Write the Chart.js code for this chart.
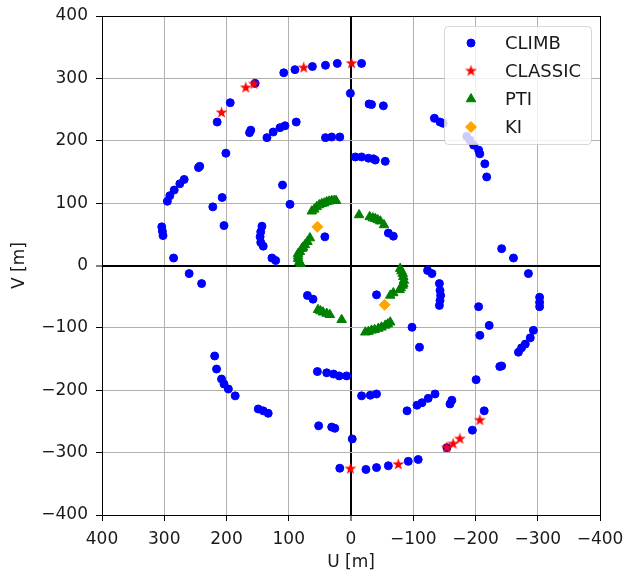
<!doctype html>
<html lang="en">
<head>
<meta charset="utf-8">
<title>UV coverage</title>
<style>
  * { margin: 0; padding: 0; }
  body { background: #fff; }
  #box { width: 626px; height: 571px; }
</style>
</head>
<body>
<div id="box"><canvas id="uvChart" width="626" height="571"></canvas></div>
<script src="https://cdn.jsdelivr.net/npm/chart.js"></script>
<script>
// baselines, U and V in metres
const climbU = [108, 90, 62, 41, 22, -17, 154, 194, 215, 88, 106, 114, 125, 135, 161, 163, 201, 243, 245,
  268, 275, 284, 291, 295, 304, 303, 302, 285, 41, 31, 18, 1, -7, -17, -28, -36, -39, -55, 110, 98,
  207, 222, 204, 143, 145, 146, 145, 141, 127, 121, 42, -29, -33, -52, -134, -143, -148,
  -186, -191, -197, -205, -207, -215, -218, -60, -68, -242, -261,
  -108, -92, -60, -41, -24, 18, -154, -195, -214, -90, -106, -114, -124, -135, -159, -162, -201, -242, -239,
  -269, -274, -280, -288, -293, -303, -303, -303, -285, -17, -31, -41, -2, 54, 39, 28, 19, 7, -98, -110,
  -207, -222, -205, -142, -143, -144, -143, -142, -123, -130, -41, 52, 31, 26, 149, 141, 133,
  186, 197, 204, 208, 216, 219, 70, 61, 260, 240];
const climbV = [309, 314, 319, 321, 324, 324, 292, 261, 230, 230, 224, 221, 214, 205, 217, 213, 180, 159, 157,
  138, 131, 121, 112, 103, 62, 55, 48, 12, 205, 206, 206, 276, 174, 174, 172, 171, 169, 167, 129, 98,
  109, 94, 64, 63, 54, 46, 37, 31, 12, 8, 46, 259, 258, 256, 236, 230, 228,
  207, 201, 193, 185, 179, 163, 142, 52, 47, 27, 12,
  -311, -314, -321, -324, -327, -325, -292, -264, -233, -233, -224, -220, -213, -206, -222, -216, -183, -161, -162,
  -139, -132, -126, -116, -104, -51, -59, -66, -13, -209, -208, -206, -278, -170, -172, -174, -177, -177, -99, -131,
  -112, -96, -66, -29, -40, -48, -56, -64, -8, -13, -47, -257, -259, -261, -230, -233, -237,
  -209, -198, -190, -182, -166, -145, -48, -54, -13, -29];

const classicU = [76, -1, 169, 156, 208, 1, -76, -207, -154, -164, -175];
const classicV = [317, 324, 285, 291, 245, -326, -319, -248, -292, -286, -278];

const ptiU = [63, 59, 55, 51, 47, 43, 39, 35, 31, 27, 24,
  66, 70, 74, 77, 79, 82, 85, 85, 85, 83, 81,
  -13, -30, -35, -39, -43, -47, -53,
  -79, -81, -83, -84, -85, -84, -83, -80, -78, -68, -63,
  -23, -28, -33, -38, -44, -49, -55, -59, -63,
  15, 34, 39, 45, 49, 53];
const ptiV = [87, 90, 94, 97, 99, 100, 102, 103, 104, 104, 104,
  44, 38, 33, 29, 27, 22, 19, 15, 11, 6, 3,
  81, 78, 76, 75, 73, 71, 65,
  -5, -9, -13, -18, -24, -29, -32, -36, -39, -44, -48,
  -107, -106, -104, -103, -101, -99, -96, -94, -91,
  -87, -79, -77, -75, -73, -71];

const kiU = [54, -54];
const kiV = [62, -63];

const uTicks = [400, 300, 200, 100, 0, -100, -200, -300, -400];
const vTicks = [400, 300, 200, 100, 0, -100, -200, -300, -400];

function pts(u, v) {
  return u.map((x, i) => ({ x: x, y: v[i] }));
}

// filled five point star, like the matplotlib '*' marker
function starImage(r, color) {
  const s = Math.ceil(r * 2 + 2);
  const c = document.createElement('canvas');
  c.width = s;
  c.height = s;
  const g = c.getContext('2d');
  g.translate(s / 2, s / 2);
  g.beginPath();
  for (let i = 0; i < 10; i++) {
    const rr = i % 2 ? r * 0.382 : r;
    const a = -Math.PI / 2 + i * Math.PI / 5;
    g.lineTo(rr * Math.cos(a), rr * Math.sin(a));
  }
  g.closePath();
  g.fillStyle = color;
  g.fill();
  return c;
}
const star = starImage(6.3, '#ff0000');

const minus = v => (v < 0 ? '\u2212' + Math.abs(v) : String(v));
const tickFont = { family: 'DejaVu Sans', size: 17 };

// legend box drawn inside the plot, top right
const legendBox = {
  id: 'legendBox',
  afterDraw(chart) {
    const ctx = chart.ctx;
    const area = chart.chartArea;
    const w = 147, h = 118;
    const x0 = area.right - 9 - w, y0 = area.top + 10;
    ctx.save();
    ctx.beginPath();
    ctx.roundRect(x0 + 0.5, y0 + 0.5, w, h, 4);
    ctx.fillStyle = 'rgba(255,255,255,0.8)';
    ctx.fill();
    ctx.strokeStyle = 'rgba(204,204,204,0.8)';
    ctx.lineWidth = 1;
    ctx.stroke();
    chart.data.datasets.forEach((ds, row) => {
      const cy = y0 + 17 + row * 28;
      const cx = x0 + 27;
      ctx.fillStyle = ds.backgroundColor;
      ctx.strokeStyle = ds.borderColor;
      ctx.lineWidth = 1;
      Chart.helpers.drawPoint(ctx, {
        pointStyle: ds.pointStyle,
        radius: ds.pointRadius,
        borderWidth: ds.borderWidth,
        rotation: 0
      }, cx, cy);
      ctx.font = '18px "DejaVu Sans"';
      ctx.fillStyle = '#1a1a1a';
      ctx.textBaseline = 'middle';
      ctx.fillText(ds.label, x0 + 61, cy + 1);
    });
    ctx.restore();
  }
};

new Chart(document.getElementById('uvChart'), {
  type: 'scatter',
  data: {
    datasets: [
      { label: 'CLIMB', data: pts(climbU, climbV), pointStyle: 'circle', pointRadius: 4,
        backgroundColor: '#0000ff', borderColor: '#0000ff', borderWidth: 1, order: 4 },
      { label: 'CLASSIC', data: pts(classicU, classicV), pointStyle: star, pointRadius: 6,
        backgroundColor: '#ff0000', borderColor: '#ff0000', borderWidth: 0, order: 3 },
      { label: 'PTI', data: pts(ptiU, ptiV), pointStyle: 'triangle', pointRadius: 5.5,
        backgroundColor: '#008000', borderColor: '#008000', borderWidth: 1, order: 2 },
      { label: 'KI', data: pts(kiU, kiV), pointStyle: 'rectRot', pointRadius: 5.5,
        backgroundColor: '#ffa500', borderColor: '#ffa500', borderWidth: 1, order: 1 }
    ]
  },
  options: {
    responsive: false,
    animation: false,
    events: [],
    layout: { padding: { top: 16, right: 26, left: 0, bottom: 0 } },
    plugins: { legend: { display: false }, tooltip: { enabled: false } },
    scales: {
      x: {
        type: 'linear', reverse: true, min: -400, max: 400,
        afterBuildTicks: s => { s.ticks = uTicks.map(v => ({ value: v })); },
        afterFit: s => { s.height = 56; s.paddingLeft = 0; s.paddingRight = 0; },
        ticks: { font: tickFont, color: '#1a1a1a', padding: 8, maxRotation: 0, callback: minus },
        grid: {
          color: c => (c.tick.value === 0 || c.tick.value === -400 ? '#000' : '#b0b0b0'),
          lineWidth: c => (c.tick.value === 0 ? 2 : 1),
          tickColor: '#000', tickLength: 6, tickWidth: 1
        },
        border: { color: '#000', width: 1 },
        title: { display: true, text: 'U [m]', font: tickFont, color: '#1a1a1a', padding: { top: 0, bottom: -2 } }
      },
      y: {
        type: 'linear', min: -400, max: 400,
        afterBuildTicks: s => { s.ticks = vTicks.map(v => ({ value: v })); },
        afterFit: s => { s.width = 102; s.paddingTop = 0; s.paddingBottom = 0; },
        ticks: { font: tickFont, color: '#1a1a1a', padding: 8, callback: minus },
        grid: {
          color: c => (c.tick.value === 0 || c.tick.value === 400 ? '#000' : '#b0b0b0'),
          lineWidth: c => (c.tick.value === 0 ? 2 : 1),
          tickColor: '#000', tickLength: 6, tickWidth: 1
        },
        border: { color: '#000', width: 1 },
        title: { display: true, text: 'V [m]', font: tickFont, color: '#1a1a1a', padding: { top: 9, bottom: 0 } }
      }
    }
  },
  plugins: [legendBox]
});
</script>
</body>
</html>
